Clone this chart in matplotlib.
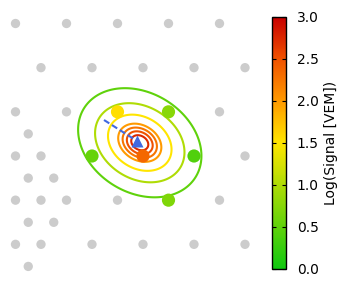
import numpy as np
import matplotlib
matplotlib.use("Agg")
import matplotlib.pyplot as plt
from matplotlib.colors import LinearSegmentedColormap, Normalize
from matplotlib.cm import ScalarMappable

# ---- data ----
# regular triangular grid stations (m)
grid_x = [-3750, -2250, -750, 750, 2250,
          -3000, -1500, 0, 1500, 3000,
          -3750, -2250, 2250,
          -3000, 3000,
          -3750, -2250, -750, 2250,
          -3000, -1500, 0, 1500, 3000]
grid_y = [3897, 3897, 3897, 3897, 3897,
          2598, 2598, 2598, 2598, 2598,
          1299, 1299, 1299,
          0, 0,
          -1299, -1299, -1299, -1299,
          -2598, -2598, -2598, -2598, -2598]
# infill stations (m)
infill_x = [-3375, -3750, -3375, -2625, -3000, -3375, -2625, -3750, -3375]
infill_y = [650, 0, -650, -650, -1299, -1950, -1950, -2598, -3248]
# triggered stations and log10 signal
hit_x = [-750, 750, -1500, 0, 1500, 750]
hit_y = [1299, 1299, 0, 0, 0, -1299]
hit_logS = [1.55, 0.75, 0.55, 2.35, 0.40, 0.70]
# reconstructed core and arrival direction start
core = (-190, 450)
axis_start = (-1147, 1059)
# LDF model parameters for the contour map
ldf_center = (-95, 390)
ldf_A = 1.179
ldf_k = 3.84
ldf_r0 = 333.0
ldf_ratio = 0.76
ldf_angle = -31.5
levels = [0.5, 1.0, 1.5, 2.0, 2.25, 2.5, 2.75]

cmap = LinearSegmentedColormap.from_list(
    "sig", [(0.0, "#10c810"), (0.5, "#ffe600"), (0.667, "#ff9a00"),
            (0.833, "#f05200"), (1.0, "#c80000")])
norm = Normalize(0, 3)

fig = plt.figure(figsize=(3.6, 3.0), dpi=100)
ax = fig.add_axes([0, 10/300, 258/360, 290/300])
s = 1500/51.0
ax.set_xlim(-143*s, (258-143)*s)
ax.set_ylim(156*s - 290*s, 156*s)
ax.set_axis_off()

ax.scatter(grid_x + infill_x, grid_y + infill_y, s=45, color="#cccccc",
           edgecolors="none", zorder=1)

X, Y = np.meshgrid(np.linspace(-4400, 3600, 500), np.linspace(-4200, 4800, 500))
dx = X - ldf_center[0]
dy = Y - ldf_center[1]
t = np.radians(ldf_angle)
u = dx*np.cos(t) + dy*np.sin(t)
v = -dx*np.sin(t) + dy*np.cos(t)
r = np.sqrt((u*ldf_ratio)**2 + v**2)
F = ldf_A - ldf_k*np.log10(np.sqrt(r**2 + ldf_r0**2)/1000.0)
ax.contour(X, Y, F, levels=levels, cmap=cmap, norm=norm, linewidths=1.5, zorder=2)

ax.scatter(hit_x, hit_y, c=hit_logS, cmap=cmap, norm=norm, s=90,
           edgecolors="none", zorder=3)

ax.plot([axis_start[0], core[0]], [axis_start[1], core[1]], ls="--",
        color="#4169e1", lw=1.5, dashes=(3, 1.5), zorder=4)
ax.plot([core[0]], [core[1]], marker="^", color="#4169e1", ms=8,
        mec="none", zorder=5)

cax = fig.add_axes([272/360, 31/300, 13.7/360, 252/300])
cb = fig.colorbar(ScalarMappable(norm=norm, cmap=cmap), cax=cax,
                  ticks=np.arange(0, 3.01, 0.5), format="%.1f")
cb.outline.set_linewidth(1.0)
cax.tick_params(direction="in", left=True, right=True, length=3,
                labelsize=10, pad=8)
cb.set_label("Log(Signal [VEM])", fontsize=10, labelpad=4)

fig.savefig("out.png", dpi=100)
